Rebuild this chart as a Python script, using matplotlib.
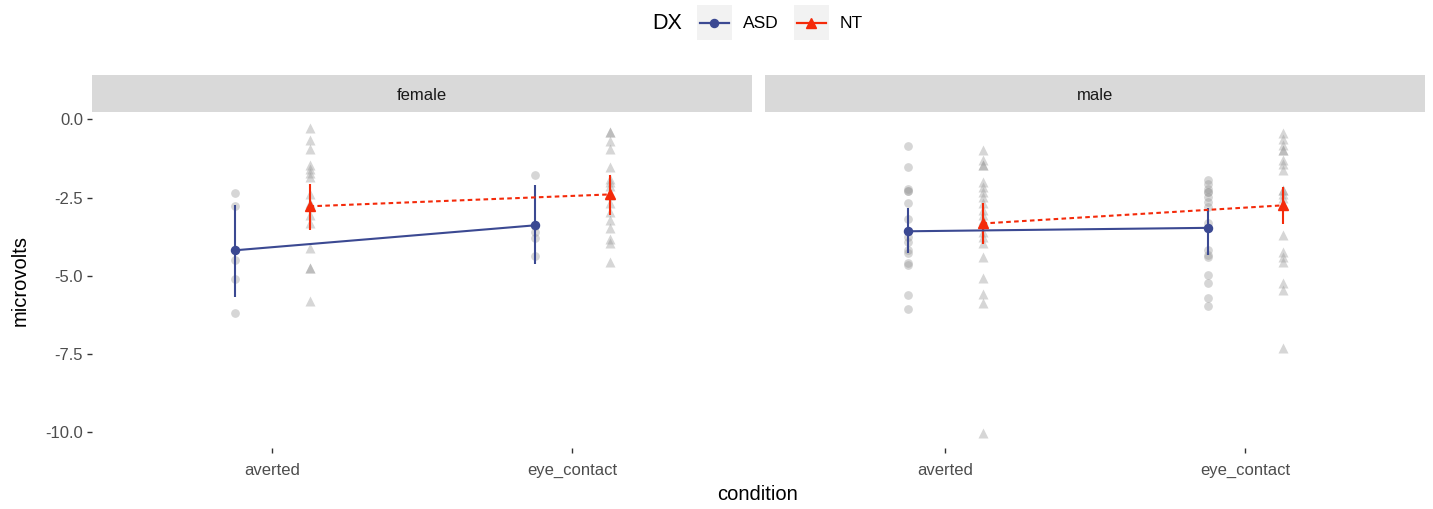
import matplotlib
matplotlib.use("Agg")
import matplotlib.pyplot as plt
import matplotlib.patches as mpatches

plt.rcParams["font.family"] = ["Liberation Sans", "DejaVu Sans"]

# ---- data -----------------------------------------------------------------
conditions = ["averted", "eye_contact"]
panels = ["female", "male"]
groups = ["ASD", "NT"]

# individual observations (microvolts)
female_averted_asd = [-2.34, -2.77, -4.50, -5.12, -6.21]
female_averted_nt = [-0.28, -0.67, -0.96, -1.47, -1.58, -1.70, -1.84, -2.37,
                     -2.69, -3.07, -3.33, -4.11, -4.77, -4.77, -5.81]
female_eye_asd = [-1.77, -3.40, -3.61, -3.79, -4.38]
female_eye_nt = [-0.41, -0.41, -0.70, -0.94, -1.52, -1.90, -2.00, -2.13,
                 -2.43, -2.66, -2.96, -3.23, -3.49, -3.83, -3.97, -4.56]
male_averted_asd = [-0.85, -1.52, -2.21, -2.30, -2.30, -2.69, -3.19, -3.76,
                    -3.92, -4.19, -4.29, -4.61, -4.66, -5.62, -6.07]
male_averted_nt = [-0.99, -1.31, -1.47, -1.47, -2.00, -2.16, -2.32, -2.48,
                   -2.69, -2.91, -3.07, -3.23, -3.60, -3.76, -3.97, -4.40,
                   -5.09, -5.60, -5.89, -10.03]
male_eye_asd = [-1.93, -2.05, -2.21, -2.32, -2.32, -2.48, -2.64, -2.80,
                -3.31, -4.19, -4.35, -4.40, -4.98, -5.25, -5.73, -5.97]
male_eye_nt = [-0.44, -0.62, -0.83, -0.99, -0.99, -1.29, -1.42, -1.63,
               -2.27, -2.27, -2.40, -2.53, -3.71, -4.24, -4.40, -4.56,
               -5.25, -5.46, -7.33]

# summary: mean and error bar ends, ordered [averted, eye_contact]
female_asd_mean = [-4.19, -3.39]
female_asd_lo = [-5.68, -4.63]
female_asd_hi = [-2.73, -2.11]
female_nt_mean = [-2.78, -2.40]
female_nt_lo = [-3.55, -3.05]
female_nt_hi = [-2.05, -1.77]
male_asd_mean = [-3.58, -3.47]
male_asd_lo = [-4.29, -4.35]
male_asd_hi = [-2.85, -2.85]
male_nt_mean = [-3.33, -2.75]
male_nt_lo = [-4.00, -3.35]
male_nt_hi = [-2.69, -2.16]

raw = {
    ("female", "ASD"): [female_averted_asd, female_eye_asd],
    ("female", "NT"): [female_averted_nt, female_eye_nt],
    ("male", "ASD"): [male_averted_asd, male_eye_asd],
    ("male", "NT"): [male_averted_nt, male_eye_nt],
}
summ = {
    ("female", "ASD"): (female_asd_mean, female_asd_lo, female_asd_hi),
    ("female", "NT"): (female_nt_mean, female_nt_lo, female_nt_hi),
    ("male", "ASD"): (male_asd_mean, male_asd_lo, male_asd_hi),
    ("male", "NT"): (male_nt_mean, male_nt_lo, male_nt_hi),
}

# ---- style ------------------------------------------------------------------
COLORS = {"ASD": "#3B4992", "NT": "#F42A0A"}
MARKERS = {"ASD": "o", "NT": "^"}
RAW_MS = {"ASD": 6.3, "NT": 7.4}
MEAN_MS = {"ASD": 5.8, "NT": 6.6}
LINESTYLES = {"ASD": "-", "NT": (0, (2.2, 1.6))}
OFFSET = {"ASD": -0.125, "NT": 0.125}
STRIP = "#D9D9D9"
TICK_TXT = "#4D4D4D"

W, H = 1433, 509
fig = plt.figure(figsize=(W / 100, H / 100), dpi=100)

panel_left = [92, 765]
panel_w = 660
top_px, bot_px, strip_px = 112, 448, 37

for k, p in enumerate(panels):
    ax = fig.add_axes([panel_left[k] / W, 1 - bot_px / H,
                       panel_w / W, (bot_px - top_px) / H])
    for g in groups:
        xs_base = [i + 1 + OFFSET[g] for i in range(len(conditions))]
        for xb, vals in zip(xs_base, raw[(p, g)]):
            ax.plot([xb] * len(vals), vals, ls="none", marker=MARKERS[g],
                    ms=RAW_MS[g], color="#999999", alpha=0.4, mec="none",
                    zorder=1)
        mean, lo, hi = summ[(p, g)]
        ax.vlines(xs_base, lo, hi, color=COLORS[g], lw=1.5, zorder=3)
        ax.plot(xs_base, mean, color=COLORS[g], ls=LINESTYLES[g], lw=1.5,
                marker=MARKERS[g], ms=MEAN_MS[g], zorder=4)

    ax.set_xlim(0.4, 2.6)
    ax.set_ylim(-10.52, 0.24)
    ax.set_xticks([1, 2])
    ax.set_xticklabels(conditions)
    ax.set_yticks([0, -2.5, -5, -7.5, -10])
    ax.set_yticklabels(["0.0", "-2.5", "-5.0", "-7.5", "-10.0"])
    ax.tick_params(colors="#333333", labelcolor=TICK_TXT, labelsize=12,
                   length=3.5, width=1, pad=3)
    ax.tick_params(axis="x", pad=7)
    if k == 1:
        ax.tick_params(axis="y", left=False, labelleft=False)
    for s in ax.spines.values():
        s.set_visible(False)

    # facet strip
    sax = fig.add_axes([panel_left[k] / W, 1 - top_px / H,
                        panel_w / W, strip_px / H])
    sax.set_facecolor(STRIP)
    sax.set_xticks([]); sax.set_yticks([])
    for s in sax.spines.values():
        s.set_visible(False)
    sax.text(0.5, 0.45, p, ha="center", va="center", fontsize=12,
             color="#1A1A1A", transform=sax.transAxes)

fig.text(20 / W, 1 - 280 / H, "microvolts", rotation=90, ha="center",
         va="center", fontsize=14.5, color="black")
fig.text(758 / W, 1 - 494 / H, "condition", ha="center", va="center",
         fontsize=14.5, color="black")

# ---- legend (drawn in pixel space on an overlay) ----------------------------
lax = fig.add_axes([0, 0, 1, 1], facecolor="none")
lax.set_xlim(0, W); lax.set_ylim(H, 0)
lax.axis("off")
lax.text(667, 23, "DX", ha="center", va="center", fontsize=15.5)
for g, x0, lx in [("ASD", 697, 743), ("NT", 794, 840)]:
    lax.add_patch(mpatches.Rectangle((x0, 5), 35, 35, facecolor="#F2F2F2",
                                     edgecolor="none"))
    lax.plot([x0 + 3, x0 + 32], [22.5, 22.5], color=COLORS[g], lw=1.6,
             ls="-")
    lax.plot([x0 + 17.5], [22.5], marker=MARKERS[g], color=COLORS[g],
             ms=MEAN_MS[g])
    lax.text(lx, 23, g, ha="left", va="center", fontsize=12.5)

fig.savefig("out.png", dpi=100)
